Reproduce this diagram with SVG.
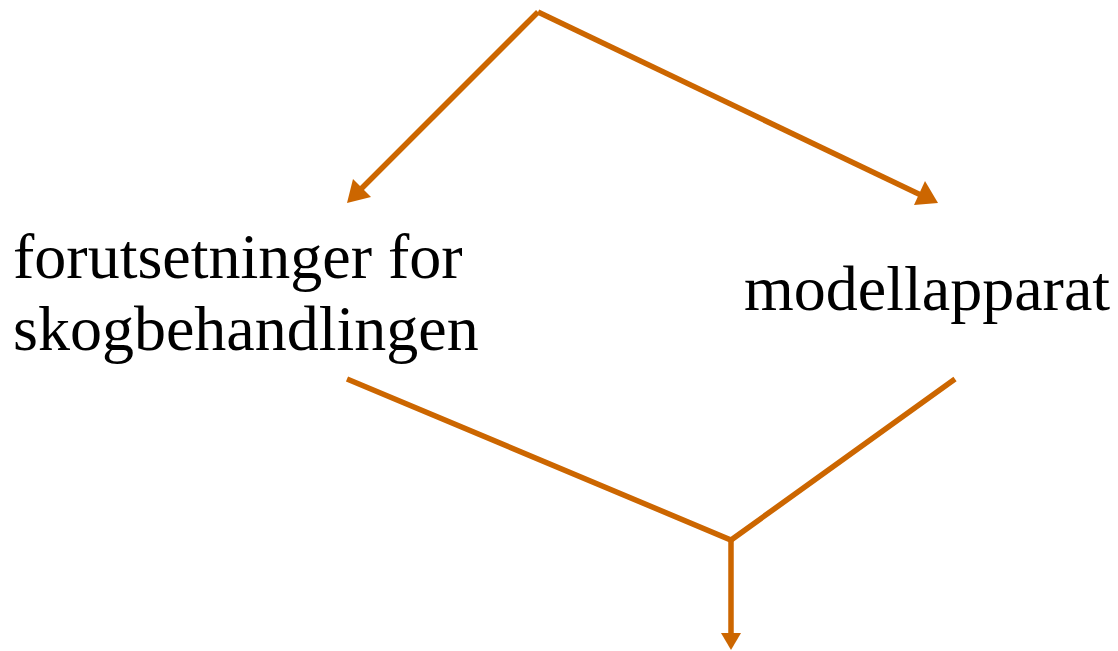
<svg xmlns="http://www.w3.org/2000/svg" width="1118" height="651" viewBox="0 0 1118 651">
<style>
.lbl{font-family:"Liberation Serif","Times New Roman",serif;font-size:64px;fill:#000}
.con{stroke:#CC6600;stroke-width:5.5;fill:none;stroke-linejoin:miter}
.head{fill:#CC6600}
</style>
<rect width="1118" height="651" fill="#fff"/>
<g id="connectors">
<path class="con" d="M538,12 L358,192"/>
<polygon class="head" points="347,203 353,179 371,197"/>
<path class="con" d="M538,12 L925,197"/>
<polygon class="head" points="938,203 914,205 925,181"/>
<path class="con" d="M347,379 L731,540 L955,379"/>
<path class="con" d="M731,540 L731,636"/>
<polygon class="head" points="731,650 721,633 741,633"/>
</g>
<g id="node-forutsetninger">
<text class="lbl" x="13" y="278">forutsetninger for</text>
<text class="lbl" x="13" y="350">skogbehandlingen</text>
</g>
<g id="node-modellapparat">
<text class="lbl" x="744" y="310">modellapparat</text>
</g>
</svg>
